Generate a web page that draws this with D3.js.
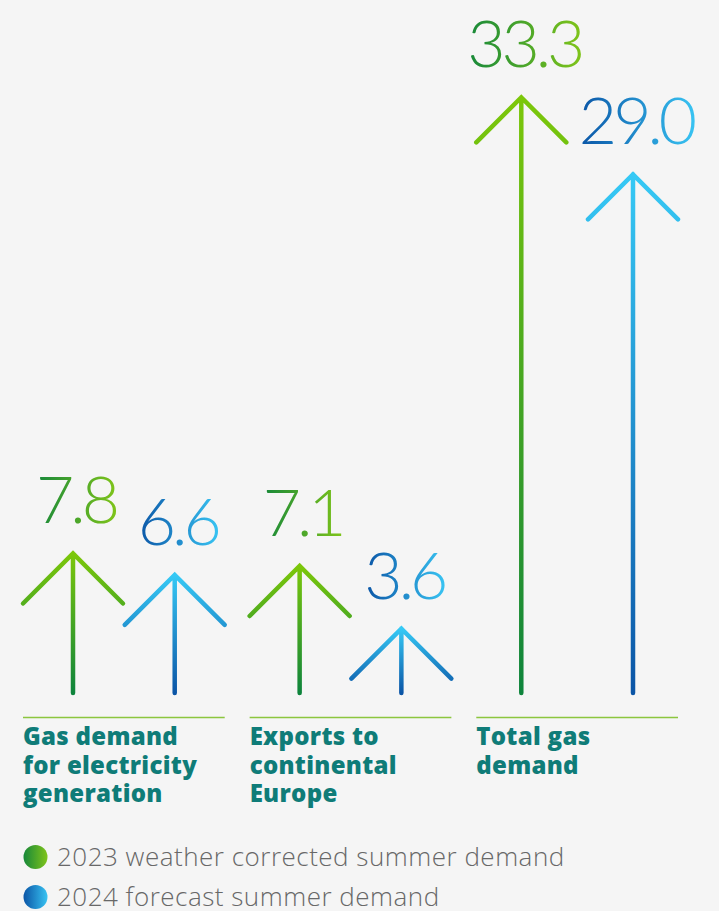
<!DOCTYPE html>
<html>
<head>
<meta charset="utf-8">
<script src="https://cdn.jsdelivr.net/npm/d3@7"></script>
<style>
  html, body { margin: 0; padding: 0; background: #f5f5f5; }
  svg { display: block; }
</style>
</head>
<body>
<div id="chart"></div>
<script>
var width = 719, height = 911;

// Data
var categories = ["elec", "exports", "total"];
var categoryLabels = [
  ["Gas demand", "for electricity", "generation"],
  ["Exports to", "continental", "Europe"],
  ["Total gas", "demand"]
];
var seriesNames = ["2023 weather corrected summer demand", "2024 forecast summer demand"];
var values2023 = [7.8, 7.1, 33.3];
var values2024 = [6.6, 3.6, 29.0];

var svg = d3.select("#chart")
  .append("svg")
  .attr("width", width)
  .attr("height", height);

svg.append("rect")
  .attr("width", width)
  .attr("height", height)
  .attr("fill", "#f5f5f5");

var defs = svg.append("defs");

function gradient(id, c1, c2, vertical) {
  var g = defs.append("linearGradient")
    .attr("id", id)
    .attr("x1", 0).attr("y1", 0)
    .attr("x2", vertical ? 0 : 1).attr("y2", vertical ? 1 : 0);
  g.append("stop").attr("offset", "0%").attr("stop-color", c1);
  g.append("stop").attr("offset", "100%").attr("stop-color", c2);
}
// arrows: light at the top, dark at the bottom
gradient("arrow-0", "#7cc70a", "#0e843c", true);
gradient("arrow-1", "#36c9f5", "#0b55a6", true);
// numbers and legend dots: dark on the left, light on the right
gradient("text-0", "#17883a", "#7fc41a", false);
gradient("text-1", "#0b55a6", "#38c3f2", false);

var baseY = 693;

// group scale
var x = d3.scaleBand()
  .domain(categories)
  .range([23, 678])
  .paddingInner(0.11);

// arrow length scale
var y = d3.scaleLinear()
  .domain([0, 35])
  .range([baseY, 67]);

var rows = [];
categories.forEach(function(c, i) {
  rows.push({ cat: c, s: 0, value: values2023[i] });
  rows.push({ cat: c, s: 1, value: values2024[i] });
});

function headSize(d) {
  return d.value > 20 ? 45 : 50;
}
function shaftX(d) {
  var h = headSize(d);
  return d.s === 0 ? x(d.cat) + h : x(d.cat) + x.bandwidth() - h;
}

// baselines under each group
svg.selectAll(".rule")
  .data(categories)
  .enter()
  .append("line")
  .attr("class", "rule")
  .attr("x1", d => x(d))
  .attr("x2", d => x(d) + x.bandwidth())
  .attr("y1", 717.5)
  .attr("y2", 717.5)
  .attr("stroke", "#8cc63f")
  .attr("stroke-width", 1.3);

// arrows
svg.selectAll(".arrow")
  .data(rows)
  .enter()
  .append("path")
  .attr("class", "arrow")
  .attr("d", function(d) {
    var cx = shaftX(d), tip = y(d.value), h = headSize(d);
    return "M" + cx + "," + baseY + "L" + cx + "," + tip +
      "M" + (cx - h) + "," + (tip + h) + "L" + cx + "," + tip + "L" + (cx + h) + "," + (tip + h);
  })
  .attr("fill", "none")
  .attr("stroke", d => "url(#arrow-" + d.s + ")")
  .attr("stroke-width", 4.5)
  .attr("stroke-linecap", "round")
  .attr("stroke-linejoin", "miter");

// value labels
svg.selectAll(".value")
  .data(rows)
  .enter()
  .append("text")
  .attr("class", "value")
  .attr("x", d => shaftX(d) + 3)
  .attr("y", d => y(d.value) - 30)
  .attr("text-anchor", "middle")
  .style("font-family", "Lato, sans-serif")
  .style("font-weight", 300)
  .style("font-size", "66px")
  .style("letter-spacing", "-4px")
  .attr("fill", d => "url(#text-" + d.s + ")")
  .text(d => d.value.toFixed(1));

// category labels
var catText = svg.selectAll(".cat")
  .data(categories)
  .enter()
  .append("text")
  .attr("class", "cat")
  .attr("x", d => x(d))
  .attr("y", 745)
  .style("font-family", "'Open Sans', sans-serif")
  .style("font-weight", 800)
  .style("font-size", "24px")
  .style("letter-spacing", "0.3px")
  .attr("fill", "#0f7c78");

catText.selectAll("tspan")
  .data((d, i) => categoryLabels[i])
  .enter()
  .append("tspan")
  .attr("x", function() { return this.parentNode.getAttribute("x"); })
  .attr("dy", (d, i) => i === 0 ? 0 : 28.5)
  .text(d => d);

// legend
var legend = svg.selectAll(".legend")
  .data(seriesNames)
  .enter()
  .append("g")
  .attr("class", "legend")
  .attr("transform", (d, i) => "translate(35.5," + (857 + i * 40) + ")");

legend.append("circle")
  .attr("r", 12)
  .attr("fill", (d, i) => "url(#text-" + i + ")");

legend.append("text")
  .attr("x", 21.5)
  .attr("y", 9)
  .style("font-family", "'Open Sans', sans-serif")
  .style("font-weight", 300)
  .style("font-size", "26px")
  .style("letter-spacing", "0.5px")
  .attr("fill", "#686868")
  .text(d => d);
</script>
</body>
</html>
